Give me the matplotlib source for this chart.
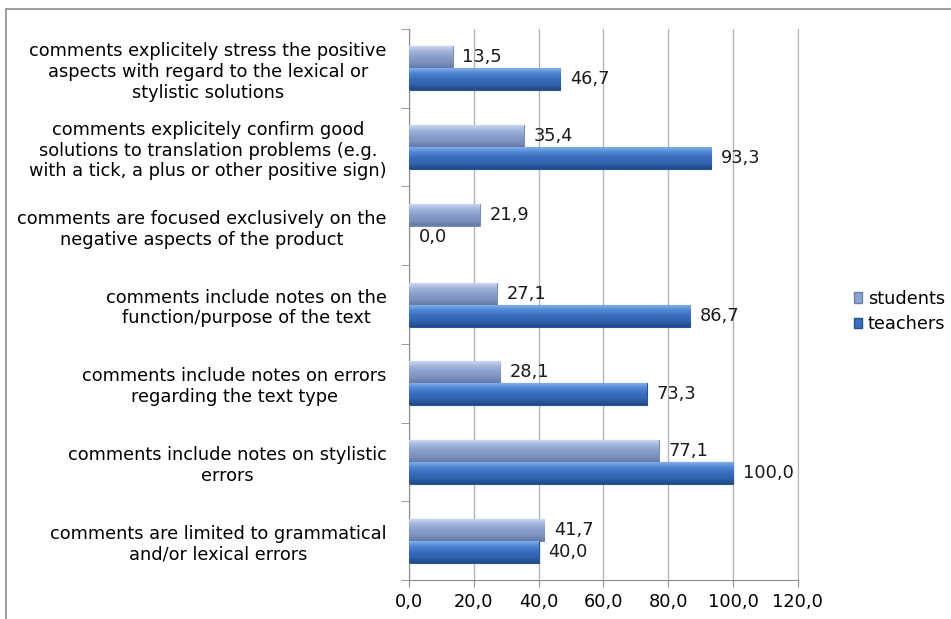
import matplotlib
matplotlib.use("Agg")
import matplotlib.pyplot as plt
import numpy as np
from matplotlib.colors import LinearSegmentedColormap
from matplotlib.patches import Rectangle, Patch

categories = [
    "comments are limited to grammatical\nand/or lexical errors",
    "comments include notes on stylistic\nerrors",
    "comments include notes on errors\nregarding the text type",
    "comments include notes on the\nfunction/purpose of the text",
    "comments are focused exclusively on the\nnegative aspects of the product",
    "comments explicitely confirm good\nsolutions to translation problems (e.g.\nwith a tick, a plus or other positive sign)",
    "comments explicitely stress the positive\naspects with regard to the lexical or\nstylistic solutions",
]
students = [41.7, 77.1, 28.1, 27.1, 21.9, 35.4, 13.5]
teachers = [40.0, 100.0, 73.3, 86.7, 0.0, 93.3, 46.7]
xticks = [0, 20, 40, 60, 80, 100, 120]

plt.rcParams["font.family"] = "DejaVu Sans"
fs = 12.8

fig = plt.figure(figsize=(9.51, 6.19), dpi=100)
ax = fig.add_axes([0.430, 0.063, 0.409, 0.890])

# outer chart frame (top and left edges only visible)
fig.patches.append(Rectangle((6 / 951, -0.1), 1.2, 1 - 9 / 619 + 0.1, transform=fig.transFigure,
                             fill=False, edgecolor="#8c8c8c", linewidth=1.2, zorder=0))

y = np.arange(len(categories))
h = 0.28
stud_cmap = LinearSegmentedColormap.from_list("stud", ["#d2def5", "#a3b6dc", "#8a9fca", "#7d92bf", "#657aa8"])
teach_cmap = LinearSegmentedColormap.from_list("teach", ["#8cb6ee", "#5088d4", "#3a6dbd", "#3162ad", "#1f4a86"])

grad = np.linspace(0, 1, 64).reshape(-1, 1)


def gradient_bars(bars, cmap):
    for b in bars:
        x0, y0 = b.get_x(), b.get_y()
        w, hh = b.get_width(), b.get_height()
        if w <= 0:
            continue
        im = ax.imshow(grad, cmap=cmap, aspect="auto", origin="upper",
                       extent=(x0, x0 + w, y0, y0 + hh), zorder=3)
        im.set_clip_path(b)


sb = ax.barh(y + h / 2, students, height=h, color="#8ca2cf", edgecolor="#7c8fb5",
             linewidth=0.8, zorder=2)
tb = ax.barh(y - h / 2, teachers, height=h, color="#3a6dbd", edgecolor="#2a5494",
             linewidth=0.8, zorder=2)
gradient_bars(sb, stud_cmap)
gradient_bars(tb, teach_cmap)


def fmt(v):
    return f"{v:.1f}".replace(".", ",")


for yi, v in zip(y + h / 2, students):
    ax.annotate(fmt(v), (v, yi), xytext=(7, 0), textcoords="offset points",
                ha="left", va="center", fontsize=fs, color="#1a1a1a")
for yi, v in zip(y - h / 2, teachers):
    ax.annotate(fmt(v), (v, yi), xytext=(7, 0), textcoords="offset points",
                ha="left", va="center", fontsize=fs, color="#1a1a1a")

ax.set_xlim(0, 120)
ax.set_ylim(-0.5, len(categories) - 0.5)
ax.set_xticks(xticks)
ax.set_xticklabels([fmt(t) for t in xticks], fontsize=fs)
ax.set_yticks(y)
ax.set_yticklabels(categories, fontsize=fs, multialignment="center")
ax.set_yticks(np.arange(len(categories) + 1) - 0.5, minor=True)
ax.tick_params(axis="y", which="major", length=0, pad=16)
ax.tick_params(axis="y", which="minor", length=6, color="#8c8c8c")
ax.tick_params(axis="x", length=5, color="#8c8c8c", pad=4)

ax.grid(axis="x", color="#b5b5b5", linewidth=1.0, zorder=0)
ax.set_axisbelow(True)
ax.spines["top"].set_visible(False)
ax.spines["right"].set_color("#b5b5b5")
ax.spines["left"].set_color("#8c8c8c")
ax.spines["bottom"].set_color("#8c8c8c")

handles = [Patch(facecolor="#8ca2cf", edgecolor="#6a80ae", label="students"),
           Patch(facecolor="#3a6dbd", edgecolor="#22508f", label="teachers")]
fig.legend(handles=handles, loc="center left", bbox_to_anchor=(0.890, 0.497),
           frameon=False, fontsize=fs, handlelength=0.5, handleheight=0.5,
           handletextpad=0.3, labelspacing=0.4, borderaxespad=0)

fig.savefig("out.png", dpi=100)
